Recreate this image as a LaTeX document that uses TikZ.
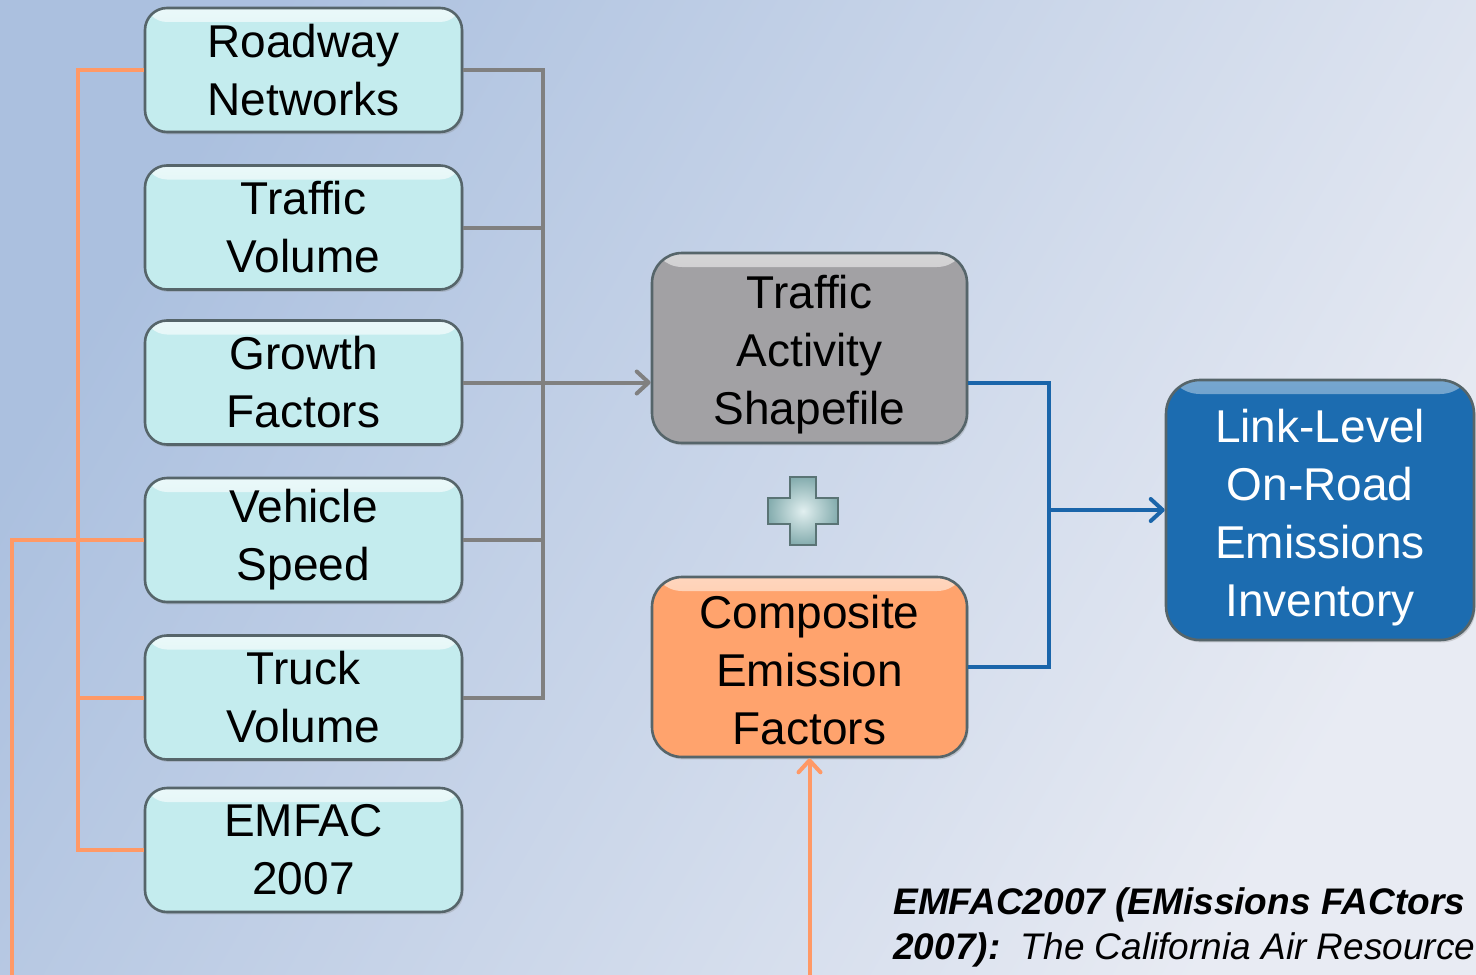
\documentclass[tikz,border=0pt]{standalone}
\usepackage{fontspec}
\setmainfont{Liberation Sans}
\usetikzlibrary{arrows.meta,shadows}
\definecolor{bgA}{HTML}{ABC0DF}
\definecolor{bgB}{HTML}{E8EBF3}
\definecolor{cyanbox}{HTML}{C4ECEE}
\definecolor{graybox}{HTML}{A2A1A4}
\definecolor{orangebox}{HTML}{FFA36D}
\definecolor{bluebox}{HTML}{1C6CB0}
\definecolor{edgegray}{HTML}{56656A}
\definecolor{orangeline}{HTML}{FF9966}
\definecolor{grayline}{HTML}{808080}
\definecolor{blueline}{HTML}{1A65AA}
\definecolor{pluscol}{HTML}{9CCBCD}
\definecolor{plusedge}{HTML}{5A7475}
\tikzset{
  boxbase/.style={draw=edgegray, line width=1.3pt, align=center, inner sep=0pt,
    font=\fontsize{23}{29}\selectfont,
    drop shadow={shadow xshift=0.8pt, shadow yshift=-1.2pt, opacity=0.3}},
  hilite/.style 2 args={path picture={\shade[top color=#1, bottom color=#2]
      (path picture bounding box.north west) rectangle
      ([yshift=-7pt]path picture bounding box.north east);}},
  inbox/.style={boxbase, rounded corners=11pt, fill=cyanbox, hilite={cyanbox!35!white}{cyanbox},
    minimum width=158.5pt, minimum height=62pt},
  midbox/.style={boxbase, rounded corners=15pt, minimum width=157.5pt},
  outbox/.style={boxbase, rounded corners=17pt, fill=bluebox, hilite={bluebox!60!white}{bluebox},
    text=white, minimum width=154pt, minimum height=130pt},
  oline/.style={draw=orangeline, line width=2pt},
  gline/.style={draw=grayline, line width=2pt},
  bline/.style={draw=blueline, line width=2pt},
  barb/.style={-{Straight Barb[length=6pt, width=11pt, round]}},
}
\begin{document}
\begin{tikzpicture}[x=0.5pt, y=-0.5pt]
\useasboundingbox (0,0) rectangle (1476,974);
\clip (0,0) rectangle (1476,974);
\shade[top color=bgA, bottom color=bgB, shading angle=60] (0,0) rectangle (1476,974);

% input boxes
\node[inbox] (rn) at (303.5,70)    {Roadway\\Networks};
\node[inbox] (tv) at (303.5,227.5) {Traffic\\Volume};
\node[inbox] (gf) at (303.5,382.5) {Growth\\Factors};
\node[inbox] (vs) at (303.5,540)   {Vehicle\\Speed};
\node[inbox] (tk) at (303.5,697.5) {Truck\\Volume};
\node[inbox] (em) at (303.5,850)   {EMFAC\\2007};

% middle boxes
\node[midbox, fill=graybox, hilite={graybox!45!white}{graybox}, minimum height=95pt] (tas) at (809.5,348)
  {\rule{0pt}{22.8pt}Traffic\\Activity\\Shapefile};
\node[midbox, fill=orangebox, hilite={orangebox!45!white}{orangebox}, minimum height=90pt] (cef) at (809.5,667)
  {\rule{0pt}{20pt}Composite\\Emission\\Factors};

% output box
\node[outbox] (lli) at (1320,510) {\rule{0pt}{23.8pt}Link-Level\\On-Road\\Emissions\\Inventory};

% plus sign
\shade[draw=plusedge, line width=1.2pt, inner color=white!70!pluscol, outer color=pluscol!85!black]
  (790,477) -- (816,477) -- (816,498) -- (838,498) -- (838,524) -- (816,524)
  -- (816,545) -- (790,545) -- (790,524) -- (768,524) -- (768,498) -- (790,498) -- cycle;

% helper coordinates
\coordinate (ox) at (78,0);
\coordinate (fx) at (12,0);
\coordinate (gx) at (543,0);
\coordinate (bx) at (1049,0);
\coordinate (by) at (0,977);

% orange connectors
\draw[oline] (rn.west) -- (rn.west -| ox) -- (em.west -| ox) -- (em.west);
\draw[oline] (tk.west) -- (tk.west -| ox);
\draw[oline, barb] (vs.west) -- (vs.west -| fx) -- (fx |- by) -- (cef.south |- by) -- (cef.south);

% gray connectors
\draw[gline] (rn.east) -- (rn.east -| gx) -- (tk.east -| gx) -- (tk.east);
\draw[gline] (tv.east) -- (tv.east -| gx);
\draw[gline] (vs.east) -- (vs.east -| gx);
\draw[gline, barb] (gf.east) -- (gf.east -| tas.west);

% blue connectors
\draw[bline] (gf.east -| tas.east) -- (gf.east -| bx) -- (cef.east -| bx) -- (cef.east);
\draw[bline, barb] (lli.west -| bx) -- (lli.west);

% note
\node[anchor=north west, align=left, inner sep=0pt, font=\fontsize{18.5}{22.5}\selectfont] (note) at (893,887)
  {\textbf{\textit{EMFAC2007 (EMissions FACtors}}\\
   \textbf{\textit{2007):}}\ \ \textit{The California Air Resource}};
\end{tikzpicture}
\end{document}
